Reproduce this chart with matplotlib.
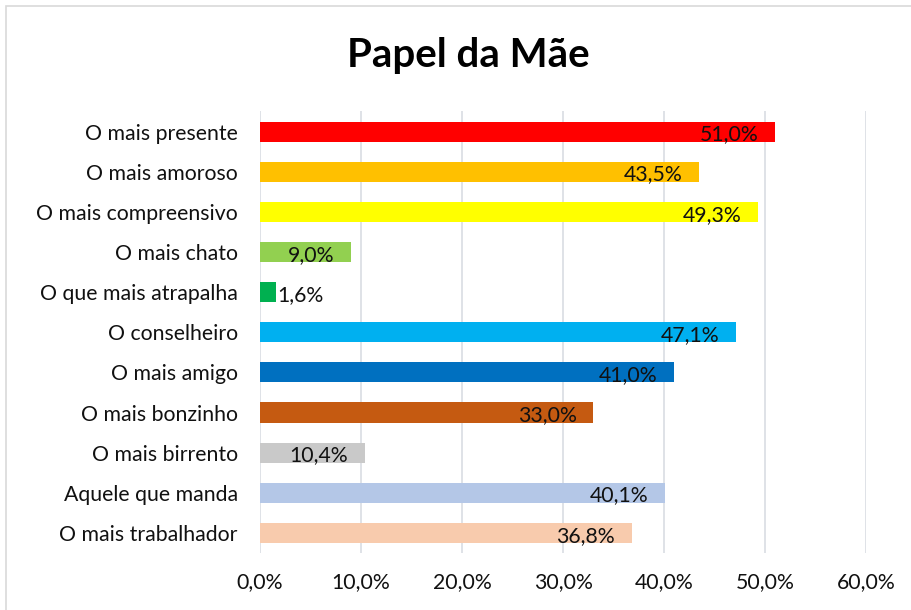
import matplotlib
matplotlib.use("Agg")
import matplotlib.pyplot as plt
from matplotlib.patches import Rectangle
from matplotlib.ticker import FuncFormatter

plt.rcParams['font.family'] = ['Lato', 'DejaVu Sans']

title = "Papel da Mãe"
categories = ["O mais presente", "O mais amoroso", "O mais compreensivo", "O mais chato",
              "O que mais atrapalha", "O conselheiro", "O mais amigo", "O mais bonzinho",
              "O mais birrento", "Aquele que manda", "O mais trabalhador"]
values = [51.0, 43.5, 49.3, 9.0, 1.6, 47.1, 41.0, 33.0, 10.4, 40.1, 36.8]
colors = ["#FF0000", "#FFC000", "#FFFF00", "#92D050", "#00B050", "#00B0F0",
          "#0070C0", "#C55A11", "#C9C9C9", "#B4C7E7", "#F8CBAD"]
xticks = [0, 10, 20, 30, 40, 50, 60]

W, H = 912, 610
fig = plt.figure(figsize=(W / 100, H / 100), dpi=100)

# chart border
fig.patches.append(Rectangle((6 / W, -0.05), 1.2, 1 - 6 / H + 0.05, transform=fig.transFigure,
                             fill=False, edgecolor="#D9D9D9", linewidth=1.2))

left, right = 260 / W, 866 / W
top, bottom = 1 - 111.5 / H, 1 - 553 / H
ax = fig.add_axes([left, bottom, right - left, top - bottom])

y = list(range(len(categories)))
ax.barh(y, values, height=0.5, color=colors, zorder=3)
ax.set_ylim(len(categories) - 0.5, -0.5)
ax.set_xlim(0, 60)
ax.set_yticks(y)
ax.set_yticklabels(categories, fontsize=15.3, color="#111111")
ax.set_xticks(xticks)
ax.xaxis.set_major_formatter(FuncFormatter(lambda v, p: f"{v:.1f}%".replace(".", ",")))
ax.tick_params(axis="x", length=0, pad=14, labelsize=15.3, labelcolor="#111111")
ax.tick_params(axis="y", length=0, pad=16)
ax.grid(axis="x", color="#D9DDE3", linewidth=1.2, zorder=0)
for s in ax.spines.values():
    s.set_visible(False)

for yi, v in zip(y, values):
    lab = f"{v:.1f}%".replace(".", ",")
    if v < 5:
        ax.annotate(lab, (v, yi), xytext=(1, -2), textcoords="offset points",
                    ha="left", va="center", fontsize=15.3, color="#111111", zorder=4)
    else:
        ax.annotate(lab, (v, yi), xytext=(-12, -2), textcoords="offset points",
                    ha="right", va="center", fontsize=15.3, color="#111111", zorder=4)

fig.text(468 / W, 1 - 55 / H, title, ha="center", va="center", fontsize=29,
         fontweight="bold", color="#000000")

fig.savefig("out.png", dpi=100)
